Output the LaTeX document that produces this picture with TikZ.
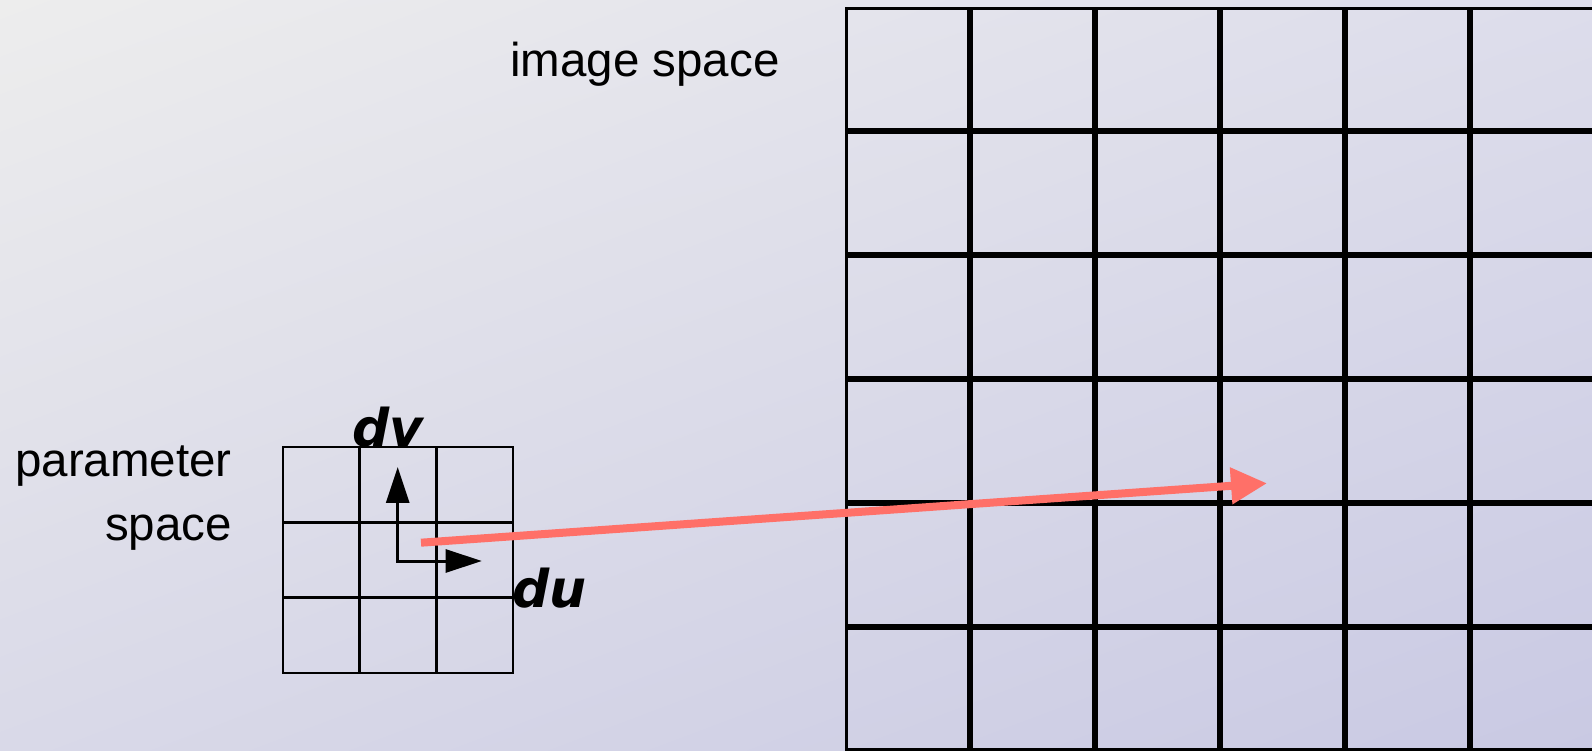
\documentclass[tikz,border=0pt]{standalone}
\usepackage{fontspec}
\setmainfont{Liberation Sans}
\newfontfamily\axisfont{DejaVu Sans}
\usepackage{tikz}
\usetikzlibrary{positioning,matrix,arrows.meta,shadings}
\definecolor{bgtopleft}{RGB}{237,237,237}
\definecolor{bgtopright}{RGB}{221,221,235}
\definecolor{bgbotleft}{RGB}{217,217,232}
\definecolor{bgbotright}{RGB}{201,201,227}
\definecolor{maparrow}{RGB}{255,112,104}

\begin{document}
\begin{tikzpicture}[
			x=1pt, y=1pt,
			label text/.style={font=\fontsize{47.5}{64}\selectfont, inner sep=0pt},
			axis text/.style={font=\axisfont\fontsize{52}{60}\selectfont\bfseries\itshape, inner sep=0pt},
			cellgrid/.style={matrix of nodes, inner sep=0pt, outer sep=0pt, column sep=0pt, row sep=0pt, nodes in empty cells},
			bigarray/.style={cellgrid, nodes={draw, line width=3pt, outer sep=1.5pt, inner sep=0pt, minimum width=122pt, minimum height=121pt}},
			smallarray/.style={cellgrid, nodes={draw, line width=1.5pt, outer sep=.75pt, inner sep=0pt, minimum width=75.7pt, minimum height=74.3pt}},
			axis arrow/.style={line width=3pt, {Triangle[length=36pt,width=23pt]}-{Triangle[length=36pt,width=23pt]}},
			map arrow/.style={maparrow, line width=8pt, -{Triangle[length=36pt,width=35pt]}}]
			
			\useasboundingbox (0,0) rectangle (1592,750);
			\clip (0,0) rectangle (1592,750);
			\shade[upper left=bgtopleft, upper right=bgtopright, lower left=bgbotleft, lower right=bgbotright] (0,0) rectangle (1592,750);
			
			% image space: 6x6 cells, runs off the page
			\matrix[bigarray, anchor=north west] (image) at (845,743.5) {
				& & & & & \\
				& & & & & \\
				& & & & & \\
				& & & & & \\
				& & & & & \\
				& & & & & \\
			};
			
			% parameter space: 3x3 cells
			\matrix[smallarray, anchor=north west] (param) at (282,303.7) {
				& & \\
				& & \\
				& & \\
			};
			
			\node[label text, anchor=base west] (imagelabel) at (510,673.3) {image space};
			\node[label text, align=right, anchor=base east] (paramlabel) at (232,210) {parameter\\space};
			\node[axis text, anchor=base west] (dvlabel) at (352,303) {dv};
			\node[axis text, anchor=base west] (dulabel) at (512,143) {du};
			
			\coordinate (dvtip) at (397.7,283);
			\coordinate (dutip) at (481.7,189);
			\draw[axis arrow] (dvtip) |- (dutip);
			
			\coordinate (mapstart) at (421,207.3);
			\coordinate (mapend) at (1267,266.7);
			\draw[map arrow] (mapstart) -- (mapend);
		\end{tikzpicture}
\end{document}
